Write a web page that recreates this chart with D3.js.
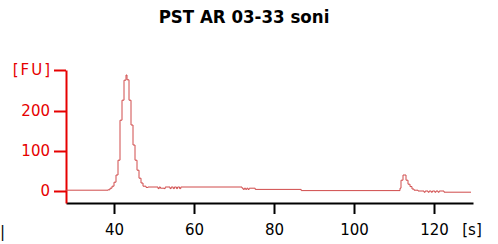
<!DOCTYPE html>
<html>
<head>
<meta charset="utf-8">
<script src="https://cdn.jsdelivr.net/npm/d3@7"></script>
<style>
  body { margin: 0; background: #fff; }
  svg { display: block; }
</style>
</head>
<body>
<div id="chart"></div>
<script>
(function () {

  var w = 498;
  var h = 244;

  // electropherogram trace
  var times = [28, 38.5, 39, 39.5, 40, 40.5, 41, 41.5, 42, 42.5, 43, 43.25, 43.75, 44.25, 44.75, 45.25, 45.75, 46.25, 46.75, 47.25, 48,
    48.5, 51, 51.3, 51.6, 52.5, 52.8, 54, 54.3, 54.8, 55.1, 55.6, 55.9, 56.4, 56.7, 72, 72.3, 72.6, 72.9, 73.2, 73.5, 73.8, 75, 75.3, 86.5, 86.8,
    111.5, 111.75, 112.25, 112.75, 113, 113.5, 114, 114.5, 115, 116, 117.5, 117.8, 118.5, 118.8, 119.3, 119.6, 120.2, 120.5, 121, 121.3, 122.5, 129.25];
  var values = [2, 3, 7, 12, 22, 40, 77, 177, 227, 277, 290, 278, 227, 165, 115, 77, 52, 32, 20, 12, 9,
    10, 6, 10, 7, 6, 10, 6, 10, 6, 10, 6, 10, 6, 10, 7, 4, 7, 4, 7, 4, 7, 7, 4, 4, 1,
    7, 27, 40, 40, 27, 17, 11, 5, 2, 0, -3, 0, -3, 0, -3, 0, -3, 0, -3, 0, -3, -3];

  var xTicks = [40, 60, 80, 100, 120];
  var yTicks = [0, 100, 200, 302.5];
  var yTickLabels = ["0", "100", "200", "[FU]"];

  var red = "#e60000";

  var xScale = d3.scaleLinear()
    .domain([28, 129.75])
    .range([66, 473]);

  var yScale = d3.scaleLinear()
    .domain([-30, 302.5])
    .range([203, 70]);

  var svg = d3.select("#chart")
    .append("svg")
    .attr("width", w)
    .attr("height", h);

  svg.append("text")
    .attr("x", 244)
    .attr("y", 23)
    .attr("text-anchor", "middle")
    .text("PST AR 03-33 soni")
      .style("font-size", "18.5px")
      .style("font-weight", "bold")
      .style("font-family", "'DejaVu Sans Condensed', 'DejaVu Sans', sans-serif")
      .style("fill", "#000")

  var yAxis = d3.axisLeft(yScale)
    .tickValues(yTicks)
    .tickFormat(function (d, i) { return yTickLabels[i] })
    .tickSize(12)
    .tickSizeOuter(0)
    .tickPadding(4);

  var xAxis = d3.axisBottom(xScale)
    .tickValues(xTicks)
    .tickSize(11)
    .tickSizeOuter(0)
    .tickPadding(10);

  var gx = svg.append("g")
    .attr("transform", "translate(0,203)")
    .call(xAxis);
  gx.selectAll("path, line")
    .style("stroke", "#000")
    .style("stroke-width", 2);
  gx.selectAll("text")
    .style("font-size", "15px")
    .style("font-family", "'DejaVu Sans', sans-serif")
    .style("fill", "#000");

  var gy = svg.append("g")
    .attr("transform", "translate(66,0)")
    .call(yAxis);
  gy.selectAll("path, line")
    .style("stroke", red)
    .style("stroke-width", 2);
  gy.selectAll("text")
    .style("font-size", "15px")
    .style("font-family", "'DejaVu Sans', sans-serif")
    .style("fill", red);
  // the unit label is spread wider in the original
  gy.selectAll("text")
    .filter(function (d, i) { return yTickLabels[i] == "[FU]" })
    .attr("x", -14)
    .style("letter-spacing", "2px");

  svg.append("text")
    .attr("x", 472)
    .attr("y", 235)
    .attr("text-anchor", "middle")
    .text("[s]")
      .style("font-size", "15px")
      .style("font-family", "'DejaVu Sans', sans-serif")
      .style("fill", "#000")

  svg.append("text")
    .attr("x", 0)
    .attr("y", 237)
    .text("|")
      .style("font-size", "15px")
      .style("font-family", "'DejaVu Sans', sans-serif")
      .style("fill", "#000")

  var points = times.map(function (t, i) { return [t, values[i]] });

  var line = d3.line()
    .x(function (d) { return xScale(d[0]) })
    .y(function (d) { return yScale(d[1]) })
    .curve(d3.curveStepAfter);

  svg.append("path")
    .datum(points)
    .attr("d", line)
    .style("fill", "none")
    .style("stroke", "#d04a4a")
    .style("stroke-width", 1);

})()
</script>
</body>
</html>
